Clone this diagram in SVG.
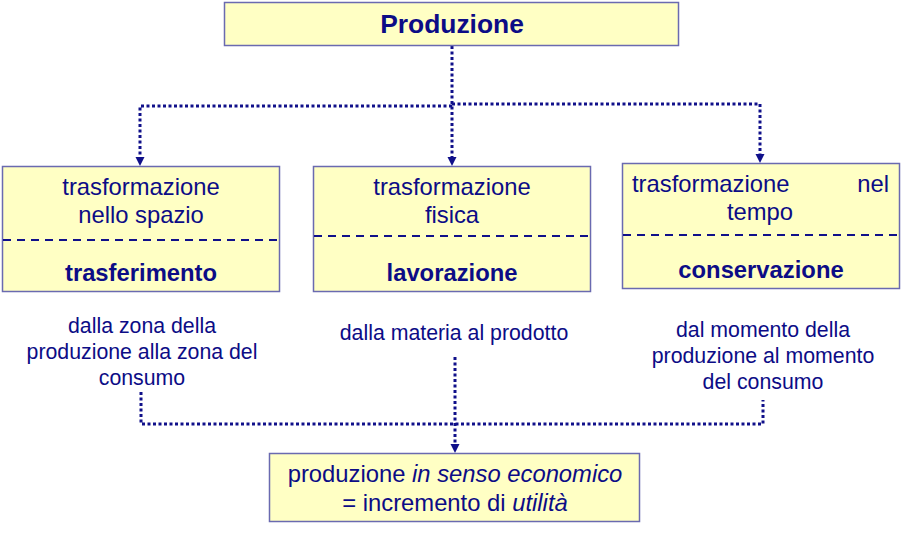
<svg xmlns="http://www.w3.org/2000/svg" width="904" height="537" viewBox="0 0 904 537">
<defs>
<style>
.box{fill:#ffffc4;stroke:#6a6ab0;stroke-width:1.5}
.sep{stroke:#10108a;stroke-width:2;stroke-dasharray:8 6;fill:none}
.con{stroke:#10108a;stroke-width:3;stroke-dasharray:3 2.5;fill:none}
text{font-family:"Liberation Sans",Arial,sans-serif;fill:#0c0c86;text-anchor:middle}
.t{font-size:23.8px}
.b{font-size:23.8px;font-weight:bold}
.a{font-size:21.3px}
</style>
</defs>
<g id="connectors">
<path class="con" d="M452,46 V158"/>
<path class="con" d="M452,106 H140 V158"/>
<path class="con" d="M452,104 H760 V155"/>
<path class="con" d="M141,392 V424 H763 V400"/>
<path class="con" d="M455,357 V445"/>
<g fill="#10108a">
<path d="M447.5,157 L456.5,157 L452,166 Z"/>
<path d="M135.5,157 L144.5,157 L140,166 Z"/>
<path d="M755.5,154 L764.5,154 L760,163 Z"/>
<path d="M450.5,444 L459.5,444 L455,453 Z"/>
</g>
</g>
<g id="produzione">
<rect class="box" x="224.5" y="2.5" width="454" height="43"/>
<text x="452" y="33" style="font-size:26.4px;font-weight:bold">Produzione</text>
</g>
<g id="spazio">
<rect class="box" x="2.5" y="166.5" width="277" height="125"/>
<text class="t" x="141" y="195">trasformazione</text>
<text class="t" x="141" y="223">nello spazio</text>
<line class="sep" x1="3" y1="240" x2="279" y2="240"/>
<text class="b" x="141" y="281">trasferimento</text>
</g>
<g id="fisica">
<rect class="box" x="313.5" y="166.5" width="277" height="125"/>
<text class="t" x="452" y="195">trasformazione</text>
<text class="t" x="452" y="223">fisica</text>
<line class="sep" x1="314" y1="236" x2="590" y2="236"/>
<text class="b" x="452" y="281">lavorazione</text>
</g>
<g id="tempo">
<rect class="box" x="622.5" y="163.5" width="277" height="125"/>
<text class="t" x="632" y="192" style="text-anchor:start">trasformazione</text>
<text class="t" x="889" y="192" style="text-anchor:end">nel</text>
<text class="t" x="760" y="220">tempo</text>
<line class="sep" x1="623" y1="235" x2="899" y2="235"/>
<text class="b" x="761" y="278">conservazione</text>
</g>
<g id="note-spazio">
<text class="a" x="142" y="333">dalla zona della</text>
<text class="a" x="142" y="359">produzione alla zona del</text>
<text class="a" x="142" y="385">consumo</text>
</g>
<g id="note-fisica">
<text class="a" x="454" y="340">dalla materia al prodotto</text>
</g>
<g id="note-tempo">
<text class="a" x="763" y="337">dal momento della</text>
<text class="a" x="763" y="363">produzione al momento</text>
<text class="a" x="763" y="389">del consumo</text>
</g>
<g id="risultato">
<rect class="box" x="269.5" y="453.5" width="370" height="68"/>
<text class="t" x="455" y="482">produzione <tspan font-style="italic">in senso economico</tspan></text>
<text class="t" x="455" y="511">= incremento di <tspan font-style="italic">utilità</tspan></text>
</g>
</svg>
